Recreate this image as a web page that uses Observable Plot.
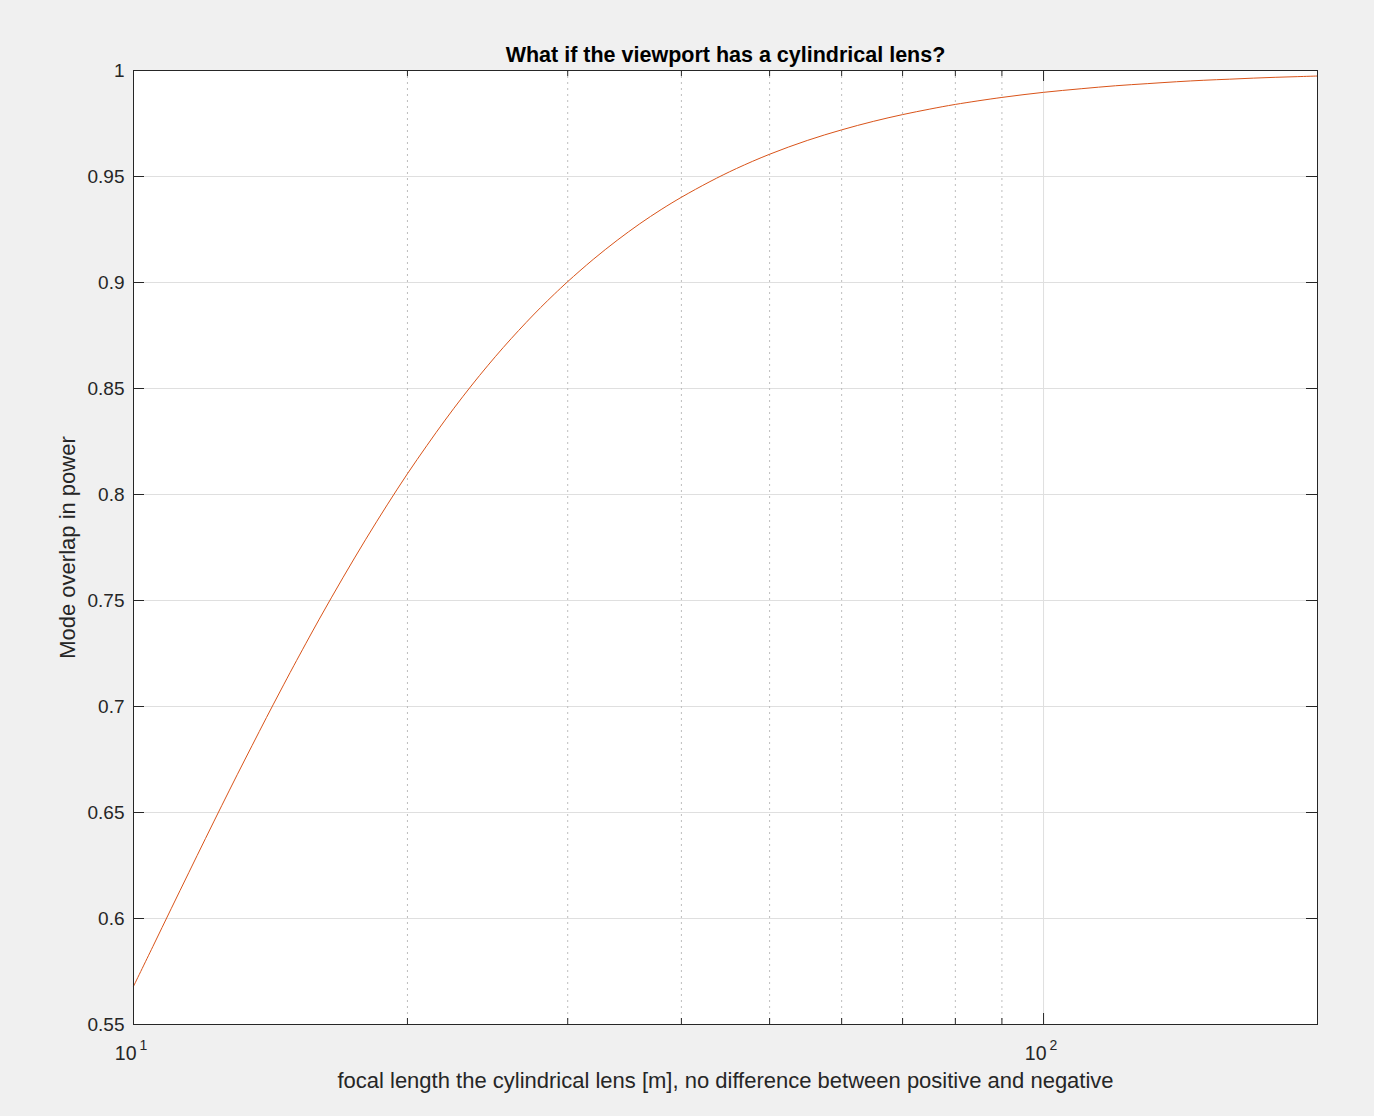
<!DOCTYPE html>
<html>
<head>
<meta charset="utf-8">
<script src="https://cdn.jsdelivr.net/npm/d3@7"></script>
<script src="https://cdn.jsdelivr.net/npm/@observablehq/plot@0.6"></script>
<style>
  html, body { margin: 0; padding: 0; background: #f0f0f0; }
  #chart { width: 1374px; height: 1116px; }
</style>
</head>
<body>
<div id="chart"></div>
<script>
// focal length [m]
const focalLength = [10, 10.5, 11, 11.5, 12, 12.5, 13, 13.5, 14, 14.5, 15, 16, 17, 18, 19, 20, 21, 22, 23, 24, 25, 26, 27, 28, 29, 30, 32, 34, 36, 38, 40, 43, 46, 50, 55, 60, 65, 70, 75, 80, 90, 100, 110, 120, 130, 140, 150, 160, 170, 180, 190, 200];
// mode overlap in power
const overlap = [0.568, 0.5867, 0.6046, 0.6216, 0.6378, 0.6532, 0.6678, 0.6816, 0.6948, 0.7073, 0.7192, 0.7412, 0.7610, 0.7789, 0.7951, 0.8098, 0.8230, 0.8351, 0.8461, 0.8561, 0.8652, 0.8735, 0.8811, 0.8881, 0.8945, 0.9004, 0.9109, 0.9199, 0.9277, 0.9344, 0.9402, 0.9476, 0.9538, 0.9605, 0.9670, 0.9720, 0.9760, 0.9792, 0.9818, 0.9840, 0.9873, 0.9897, 0.9914, 0.9928, 0.9938, 0.9947, 0.9954, 0.9959, 0.9964, 0.9968, 0.9971, 0.9974];

const yTicks = [0.55, 0.6, 0.65, 0.7, 0.75, 0.8, 0.85, 0.9, 0.95, 1];
const xMajor = [10, 100];
const xMajorExp = ["1", "2"];
const xMinor = [20, 30, 40, 50, 60, 70, 80, 90];

const titleText = "What if the viewport has a cylindrical lens?";
const xLabel = "focal length the cylindrical lens [m], no difference between positive and negative";
const yLabel = "Mode overlap in power";

const data = focalLength.map((f, i) => ({f, v: overlap[i]}));
const xMajorData = xMajor.map((v, i) => ({v, e: xMajorExp[i]}));

const W = 1374, H = 1116, mL = 133, mR = 57, mT = 70, mB = 92;
const plotW = W - mL - mR, plotH = H - mT - mB;
const font = "'Liberation Sans', Arial, Helvetica, sans-serif";
const axisColor = "#262626";

const chart = Plot.plot({
  width: W,
  height: H,
  marginLeft: mL,
  marginRight: mR,
  marginTop: mT,
  marginBottom: mB,
  style: {background: "#f0f0f0", fontFamily: font, fontSize: "19px", color: axisColor, overflow: "visible"},
  x: {type: "log", domain: [10, 200]},
  y: {domain: [0.55, 1]},
  marks: [
    Plot.frame({fill: "white", stroke: null}),
    Plot.gridY(yTicks, {stroke: "#dfdfdf", strokeOpacity: 1, strokeWidth: 1}),
    Plot.gridX(xMinor, {stroke: "#bdbdbd", strokeOpacity: 1, strokeWidth: 1, strokeDasharray: "2,4"}),
    Plot.gridX(xMajor, {stroke: "#dfdfdf", strokeOpacity: 1, strokeWidth: 1}),
    Plot.line(data, {x: "f", y: "v", stroke: "#D95319", strokeWidth: 1, curve: "catmull-rom"}),
    // inward ticks: bottom & top
    Plot.tickX(xMajor, {x: d => d, stroke: axisColor, insetTop: plotH - 11}),
    Plot.tickX(xMajor, {x: d => d, stroke: axisColor, insetBottom: plotH - 11}),
    Plot.tickX(xMinor, {x: d => d, stroke: axisColor, insetTop: plotH - 6}),
    Plot.tickX(xMinor, {x: d => d, stroke: axisColor, insetBottom: plotH - 6}),
    // inward ticks: left & right
    Plot.tickY(yTicks, {y: d => d, stroke: axisColor, insetRight: plotW - 11}),
    Plot.tickY(yTicks, {y: d => d, stroke: axisColor, insetLeft: plotW - 11}),
    Plot.frame({stroke: axisColor, strokeWidth: 1}),
    Plot.axisY(yTicks, {tickSize: 0, tickPadding: 9, tickFormat: d => String(+d.toFixed(2)), fontSize: 19, fill: axisColor, label: null}),
    Plot.axisX({ticks: [], label: null, tickSize: 0}),
    // x tick labels 10^n
    Plot.text(xMajorData, {x: "v", text: () => "10", frameAnchor: "bottom", lineAnchor: "bottom", textAnchor: "end", dx: 3, dy: 35, fontSize: 19.5, fill: axisColor}),
    Plot.text(xMajorData, {x: "v", text: "e", frameAnchor: "bottom", lineAnchor: "bottom", textAnchor: "start", dx: 6, dy: 25, fontSize: 14, fill: axisColor}),
    // axis labels & title
    Plot.text([xLabel], {text: d => d, frameAnchor: "bottom", lineAnchor: "bottom", textAnchor: "middle", dy: 63, fontSize: 22, fill: axisColor}),
    Plot.text([yLabel], {text: d => d, frameAnchor: "left", lineAnchor: "middle", textAnchor: "middle", rotate: -90, dx: -66, fontSize: 22, fill: axisColor}),
    Plot.text([titleText], {text: d => d, frameAnchor: "top", lineAnchor: "bottom", textAnchor: "middle", dy: -9, fontSize: 21.5, fontWeight: "bold", fill: "#000"})
  ]
});
document.getElementById("chart").appendChild(chart);
</script>
</body>
</html>
